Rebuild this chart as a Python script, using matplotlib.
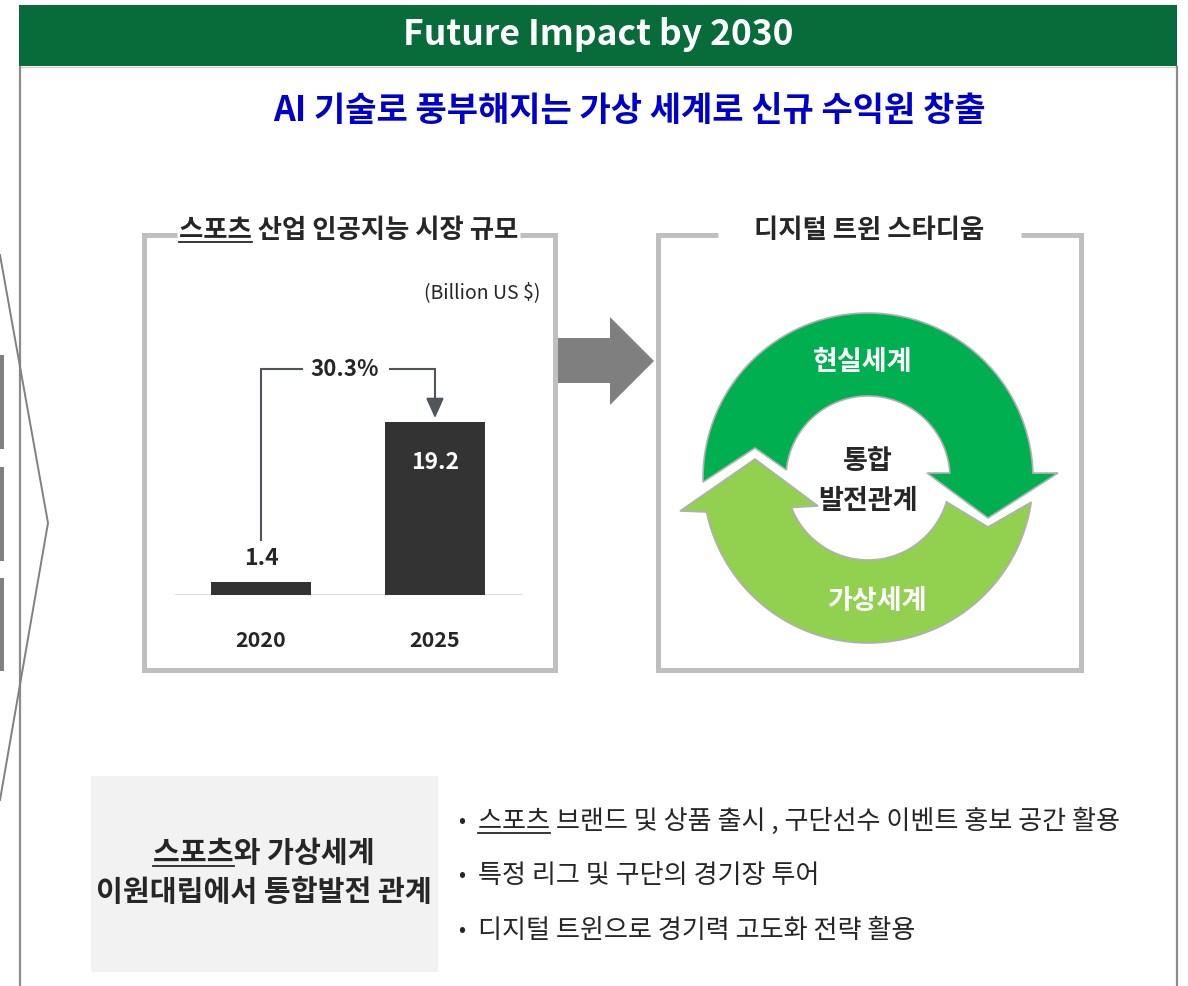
import numpy as np
import matplotlib.pyplot as plt
import matplotlib.patches as mpatches

plt.rcParams['font.family'] = ['Noto Sans CJK KR', 'DejaVu Sans']

# ---- content -------------------------------------------------------------
header_title = "Future Impact by 2030"
subtitle = "AI 기술로 풍부해지는 가상 세계로 신규 수익원 창출"
chart_title = "스포츠 산업 인공지능 시장 규모"
twin_title = "디지털 트윈 스타디움"
unit_label = "(Billion US $)"

years = ["2020", "2025"]
market_size = [1.4, 19.2]
cagr_label = "30.3%"

cycle_labels = ["현실세계", "가상세계"]
center_label = ["통합", "발전관계"]

box_lines = ["스포츠와 가상세계", "이원대립에서 통합발전 관계"]
bullets = [
    "스포츠 브랜드 및 상품 출시 , 구단선수 이벤트 홍보 공간 활용",
    "특정 리그 및 구단의 경기장 투어",
    "디지털 트윈으로 경기력 고도화 전략 활용",
]

# ---- colours -------------------------------------------------------------
HEADER_GREEN = "#076b3a"
DARK_GREEN = "#00b050"
LIGHT_GREEN = "#92d050"
BOX_GRAY = "#bfbfbf"
TEXT_DARK = "#262626"

W, H = 1188, 986
fig = plt.figure(figsize=(W / 100, H / 100), dpi=100)
ax = fig.add_axes([0, 0, 1, 1])
ax.set_xlim(0, W)
ax.set_ylim(H, 0)
ax.axis("off")
renderer = fig.canvas.get_renderer()


def underline(t, prefix, offset):
    """Draw a line under the first `prefix` characters of text t."""
    bb = t.get_window_extent(renderer)
    tmp = ax.text(0, 0, prefix, fontproperties=t.get_fontproperties())
    w = tmp.get_window_extent(renderer).width
    tmp.remove()
    x0 = bb.x0
    y = t.get_position()[1] + offset
    ax.plot([x0, x0 + w], [y, y], color=t.get_color(), lw=1.3, zorder=6)


# ---- frame / header --------------------------------------------------------
ax.add_patch(mpatches.Rectangle((19, 5), 1158, 61, color=HEADER_GREEN, lw=0))
ax.plot([20, 1177], [67, 67], color="#cfcfcf", lw=1)
for x in (20, 1177):
    ax.plot([x, x], [67, 986], color="#8c8c8c", lw=1.6)
ax.text(598, 35, header_title, color="white", fontsize=25.5, fontweight="bold",
        ha="center", va="center")
ax.text(629, 110, subtitle, color="#0000cc", fontsize=24.5, fontweight="bold",
        ha="center", va="center")

# left edge decorations
ax.plot([0, 48, 0], [255, 523, 800], color="#808080", lw=1.4)
for y0, y1 in [(355, 449), (467, 561), (578, 671)]:
    ax.add_patch(mpatches.Rectangle((0, y0), 4, y1 - y0, color="#808080", lw=0))

# ---- boxes ---------------------------------------------------------------
box_kw = dict(color=BOX_GRAY, lw=3.6, solid_joinstyle="miter", solid_capstyle="butt")
ax.plot([520, 555, 555, 144, 144, 177], [235, 235, 670, 670, 235, 235], **box_kw)
ax.plot([1021, 1081, 1081, 658, 658, 718], [235, 235, 670, 670, 235, 235], **box_kw)

t = ax.text(349, 231, chart_title, color=TEXT_DARK, fontsize=19, fontweight="bold",
            ha="center", va="center")
underline(t, "스포츠", 11)
ax.text(869, 231, twin_title, color=TEXT_DARK, fontsize=19, fontweight="bold",
        ha="center", va="center")
ax.text(540, 293, unit_label, color=TEXT_DARK, fontsize=14, ha="right", va="center")

# big gray arrow between the boxes
ax.add_patch(mpatches.Polygon(
    [(555, 338), (610, 338), (610, 317), (654, 361), (610, 405), (610, 383), (555, 383)],
    closed=True, color="#7f7f7f", lw=0, zorder=1))

# ---- bar chart -----------------------------------------------------------
bax = fig.add_axes([175 / W, (H - 595) / H, 347 / W, (595 - 300) / H])
bax.set_xlim(-0.494, 1.5)
bax.set_ylim(0, 32.7)
bax.axis("off")
xpos = np.arange(len(years))
bax.bar(xpos, market_size, width=0.575, color="#333333", zorder=2)
bax.axhline(0, color="#d9d9d9", lw=2, zorder=1)

bax.text(xpos[0], market_size[0] + 2.7, f"{market_size[0]}", ha="center", va="center",
         fontsize=16.5, fontweight="bold", color=TEXT_DARK)
bax.text(xpos[1], market_size[1] - 4.5, f"{market_size[1]}", ha="center", va="center",
         fontsize=16.5, fontweight="bold", color="white")
for xi, yr in zip(xpos, years):
    bax.text(xi, -5.0, yr, ha="center", va="center", fontsize=15.5,
             fontweight="bold", color=TEXT_DARK, clip_on=False)

# growth bracket
level = market_size[1] + 5.8
BR = "#50555c"
bax.plot([xpos[0], xpos[0], 0.236], [market_size[0] + 4.7, level, level],
         color=BR, lw=1.5, solid_joinstyle="miter", clip_on=False)
bax.plot([0.741, xpos[1]], [level, level], color=BR, lw=1.5, clip_on=False)
bax.annotate("", xy=(xpos[1], market_size[1] + 0.4), xytext=(xpos[1], level),
             arrowprops=dict(arrowstyle="-|>,head_length=0.45,head_width=0.2",
                             mutation_scale=27, color=BR, lw=1.5,
                             shrinkA=0, shrinkB=0), annotation_clip=False)
bax.text(0.483, level, cagr_label, ha="center", va="center", fontsize=16,
         fontweight="bold", color=TEXT_DARK)

# ---- circular arrows ------------------------------------------------------
CX, CY, R_OUT, R_IN = 868, 478, 165, 82


def arc(r, t0, t1, n=90):
    t = np.radians(np.linspace(t0, t1, n))
    return np.column_stack([CX + r * np.cos(t), CY - r * np.sin(t)])


def rel(pts):
    return np.array(pts, dtype=float) + [CX, CY]


dark = np.vstack([
    arc(R_OUT, 181.4, 1.7),
    rel([(190, -5), (120, 40), (59, -5)]),
    arc(R_IN, 3.5, 174.4),
    rel([(-113, -30)]),
])
light = np.vstack([
    arc(R_OUT, -8.4, -168.1),
    rel([(-188, 33), (-113, -19), (-50, 28)]),
    arc(R_IN, -158.9, -16.9),
    rel([(120, 49)]),
])
for pts, col in [(dark, DARK_GREEN), (light, LIGHT_GREEN)]:
    ax.add_patch(mpatches.Polygon(pts, closed=True, facecolor=col,
                                  edgecolor="#b0b0b0", lw=1.2, zorder=2))

ax.text(863, 362, cycle_labels[0], color="white", fontsize=19.5, fontweight="bold",
        ha="center", va="center", zorder=3)
ax.text(877, 601, cycle_labels[1], color="white", fontsize=19.5, fontweight="bold",
        ha="center", va="center", zorder=3)
ax.text(868, 461, center_label[0], color=TEXT_DARK, fontsize=19.5, fontweight="bold",
        ha="center", va="center", zorder=3)
ax.text(868, 501, center_label[1], color=TEXT_DARK, fontsize=19.5, fontweight="bold",
        ha="center", va="center", zorder=3)

# ---- bottom summary -------------------------------------------------------
ax.add_patch(mpatches.Rectangle((91, 776), 347, 196, color="#f2f2f2", lw=0))
t = ax.text(264, 853, box_lines[0], color=TEXT_DARK, fontsize=21, fontweight="bold",
            ha="center", va="center")
underline(t, "스포츠", 12.5)
ax.text(264, 892, box_lines[1], color=TEXT_DARK, fontsize=21, fontweight="bold",
        ha="center", va="center")

for i, line in enumerate(bullets):
    y = 821 + i * 54.5
    ax.text(462, y, "•", color=TEXT_DARK, fontsize=15, ha="center", va="center")
    t = ax.text(478, y, line, color=TEXT_DARK, fontsize=18.8, ha="left", va="center")
    if i == 0:
        underline(t, "스포츠", 11.5)

fig.savefig("out.png", dpi=100)
